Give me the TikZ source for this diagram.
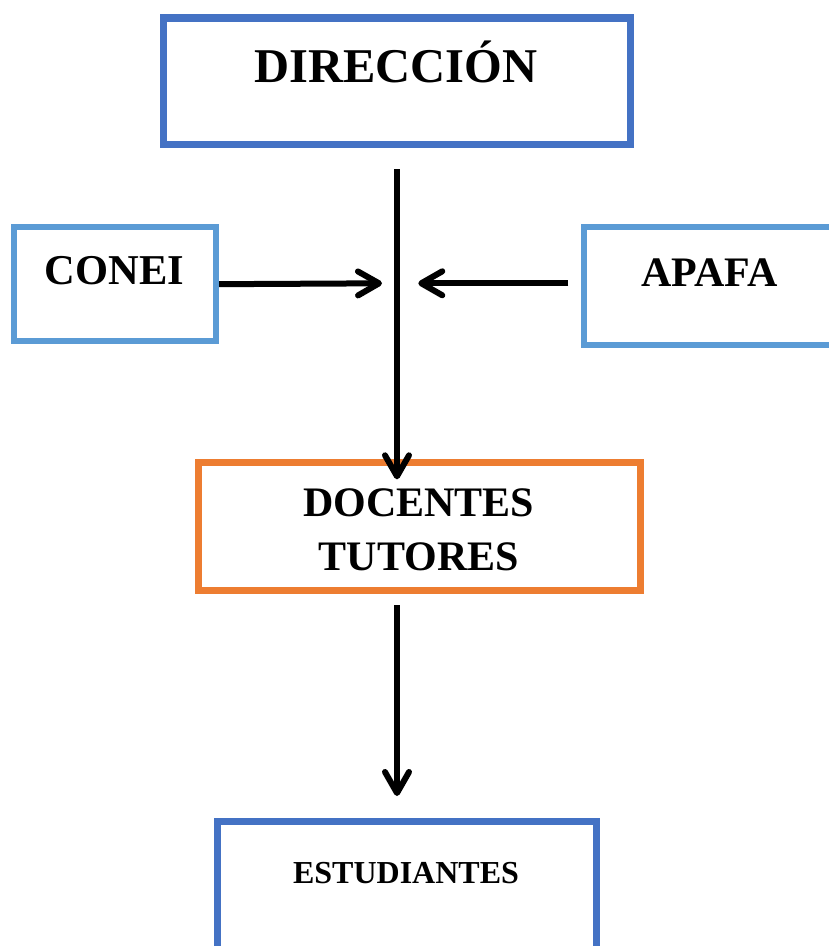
\documentclass[tikz,border=0pt]{standalone}
\usepackage{fontspec}
\setmainfont{Liberation Serif}
\usetikzlibrary{arrows.meta}
\definecolor{dblue}{HTML}{4472C4}
\definecolor{lblue}{HTML}{5B9BD5}
\definecolor{orng}{HTML}{ED7D31}
\begin{document}
\begin{tikzpicture}[x=1pt,y=-1pt,
  box/.style={draw, rectangle, inner sep=0pt, outer sep=0pt, fill=white},
  lbl/.style={anchor=base, inner sep=0pt, text=black},
  conn/.style={line width=6pt, draw=black,
    -{Straight Barb[length=21pt,width=24pt,line cap=round,line join=round]}}]
\useasboundingbox (0,0) rectangle (829,946);
\clip (0,0) rectangle (829,946);

% boxes
\node[box, draw=dblue, line width=7.5pt, minimum width=467pt, minimum height=126.7pt] (dir) at (396.8,81.35) {};
\node[box, draw=lblue, line width=6pt, minimum width=202.5pt, minimum height=114pt] (conei) at (114.95,284.2) {};
\node[box, draw=lblue, line width=6pt, minimum width=251.3pt, minimum height=118.3pt] (apafa) at (709.35,285.85) {};
\node[box, draw=orng, line width=6.5pt, minimum width=442.2pt, minimum height=128pt] (doc) at (419.6,526.7) {};
\node[box, draw=dblue, line width=6.5pt, minimum width=379.4pt, minimum height=138.3pt] (est) at (407,890.85) {};

% texts
\node[lbl, font=\bfseries\fontsize{48.5}{58}\selectfont] (dirt) at (396,82.3) {DIRECCIÓN};
\node[lbl, font=\bfseries\fontsize{42.5}{50}\selectfont] (coneit) at (114.5,284.3) {CONEI};
\node[lbl, font=\bfseries\fontsize{42}{50}\selectfont] (apafat) at (709.5,286.7) {APAFA};
\node[lbl, font=\bfseries\fontsize{42}{54.7}\selectfont, align=center] (doct) at (418.8,570.7) {DOCENTES\\TUTORES};
\node[lbl, font=\bfseries\fontsize{32}{38}\selectfont] (estt) at (406,883.3) {ESTUDIANTES};

% connectors
\coordinate (vx) at (397,0);
\coordinate (tl) at (382,283.3);
\coordinate (tr) at (418.3,283.3);
\draw[conn, shorten <=24.6pt, shorten >=-16.6pt] (vx |- dir.south) -- (vx |- doc.north);
\draw[conn, shorten <=3pt] (conei.east) -- (tl);
\draw[conn, shorten <=15.4pt] (apafa.west |- tr) -- (tr);
\draw[conn, shorten <=14.3pt, shorten >=25.7pt] (vx |- doc.south) -- (vx |- est.north);
\end{tikzpicture}
\end{document}
